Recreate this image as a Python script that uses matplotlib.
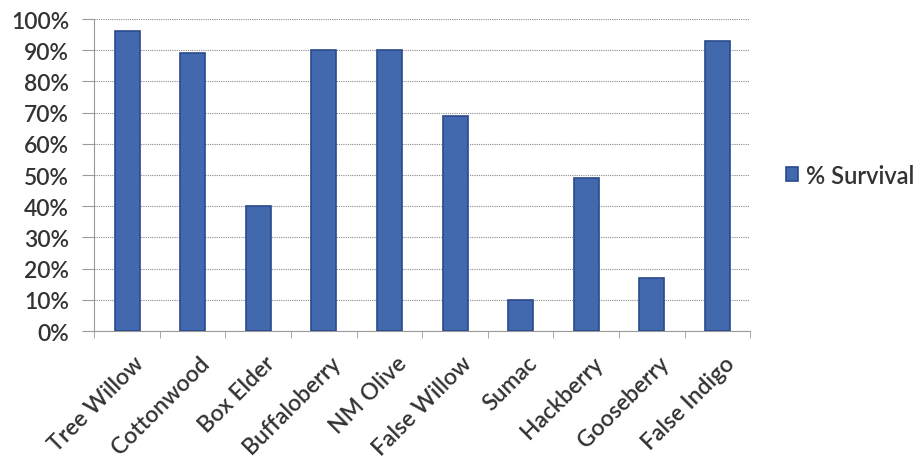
import matplotlib
matplotlib.use("Agg")
import matplotlib.pyplot as plt
from matplotlib.ticker import FuncFormatter, MultipleLocator, FixedLocator
import matplotlib.transforms as mtransforms
import numpy as np

categories = ["Tree Willow", "Cottonwood", "Box Elder", "Buffaloberry", "NM Olive",
              "False Willow", "Sumac", "Hackberry", "Gooseberry", "False Indigo"]
survival = [96, 89, 40, 90, 90, 69, 10, 49, 17, 93]
series_name = "% Survival"

plt.rcParams['font.family'] = ['Lato', 'DejaVu Sans']
txt = "#333333"

fig = plt.figure(figsize=(9.24, 4.6), dpi=100)
ax = fig.add_axes([0.102, 0.278, 0.71, 0.6785])

x = np.arange(len(categories))
ax.bar(x, survival, width=0.38, color="#4268AE", edgecolor="#2A4A8C", linewidth=1.2,
       label=series_name, zorder=3)

ax.set_xlim(-0.5, len(categories) - 0.5)
ax.set_ylim(0, 100)
ax.yaxis.set_major_locator(MultipleLocator(10))
ax.yaxis.set_major_formatter(FuncFormatter(lambda v, p: f"{int(v)}%"))
ax.grid(axis='y', color="#8a8a8a", linestyle=(0, (1, 1)), linewidth=0.8, zorder=0)

ax.set_xticks(x)
ax.set_xticklabels(categories, rotation=45, ha='right', va='top', rotation_mode='anchor',
                   fontsize=16.5, color=txt, fontweight='semibold')
ax.tick_params(axis='x', which='major', length=0, pad=15)
offset = mtransforms.ScaledTranslation(6 / 100, 0, fig.dpi_scale_trans)
for lab in ax.get_xticklabels():
    lab.set_transform(lab.get_transform() + offset)
ax.xaxis.set_minor_locator(FixedLocator(np.arange(-0.5, len(categories), 1.0)))
ax.tick_params(axis='x', which='minor', length=5, color="#9a9a9a", direction='out')
ax.tick_params(axis='y', length=9, color="#9a9a9a", labelsize=16.5, labelcolor=txt, pad=9)
for lab in ax.get_yticklabels():
    lab.set_fontweight('semibold')

for s in ['top', 'right']:
    ax.spines[s].set_visible(False)
for s in ['left', 'bottom']:
    ax.spines[s].set_color("#9a9a9a")
    ax.spines[s].set_linestyle((0, (1, 1)))
    ax.spines[s].set_linewidth(0.8)

leg = ax.legend(loc='center left', bbox_to_anchor=(1.055, 0.5), frameon=False,
                prop={'size': 17, 'weight': 'semibold'}, handlelength=0.5, handleheight=0.5,
                handletextpad=0.35, borderpad=0, borderaxespad=0, labelcolor=txt)

fig.savefig("out.png", dpi=100, facecolor="white")
